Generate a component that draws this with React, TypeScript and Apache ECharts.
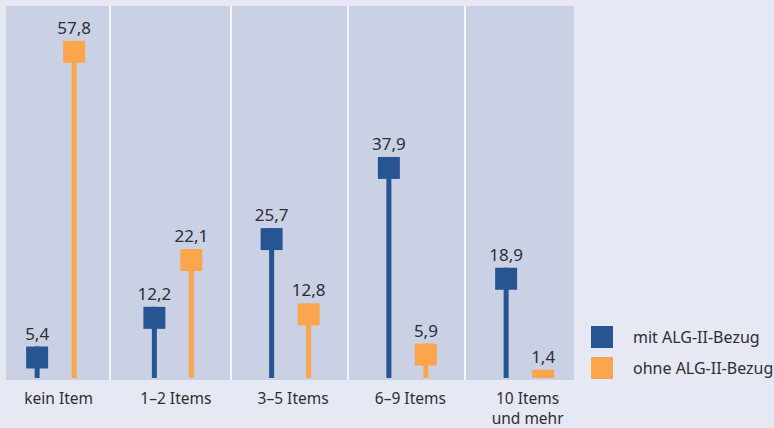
import React, { useEffect, useRef } from "react";
import * as echarts from "echarts";

const categories = ["kein Item", "1–2 Items", "3–5 Items", "6–9 Items", "10 Items\nund mehr"];
const seriesNames = ["mit ALG-II-Bezug", "ohne ALG-II-Bezug"];
const withAlg = [5.4, 12.2, 25.7, 37.9, 18.9];
const withoutAlg = [57.8, 22.1, 12.8, 5.9, 1.4];

const BLUE = "#265591";
const ORANGE = "#fba64c";
const PLOT_BG = "#cbd1e4";
const PAGE_BG = "#e6e8f3";
const FONT = "'Noto Sans', sans-serif";

function makeRender(offset: number, color: string) {
  return (params: any, api: any) => {
    const idx = api.value(0);
    const val = api.value(1);
    const top = api.coord([idx, val]);
    const base = api.coord([idx, 0]);
    const cx = top[0] + offset;
    const sq = 22;
    const stemW = 5;
    const h = base[1] - top[1];
    const sqH = Math.min(sq, h);
    return {
      type: "group",
      children: [
        {
          type: "rect",
          shape: { x: cx - stemW / 2, y: top[1], width: stemW, height: h },
          style: { fill: color },
        },
        {
          type: "rect",
          shape: { x: cx - sq / 2, y: top[1], width: sq, height: sqH },
          style: { fill: color },
        },
        {
          type: "text",
          x: cx,
          y: top[1] - 5,
          style: {
            text: String(val).replace(".", ","),
            fill: "#2e2e33",
            font: `17px ${FONT}`,
            align: "center",
            verticalAlign: "bottom",
          },
        },
      ],
    };
  };
}

export default function App() {
  const ref = useRef<HTMLDivElement>(null);
  useEffect(() => {
    if (!ref.current) return;
    const chart = echarts.init(ref.current, undefined, { renderer: "svg" });
    const sepXs = [110, 231, 348, 465];
    chart.setOption({
      animation: false,
      backgroundColor: PAGE_BG,
      textStyle: { fontFamily: FONT },
      graphic: [
        {
          type: "rect",
          z: -10,
          silent: true,
          shape: { x: 6, y: 6, width: 568, height: 374 },
          style: { fill: PLOT_BG },
        },
        ...sepXs.map((x) => ({
          type: "line",
          z: -9,
          silent: true,
          shape: { x1: x, y1: 6, x2: x, y2: 380 },
          style: { stroke: "#ffffff", lineWidth: 1.6 },
        })),
      ],
      grid: { left: 0, top: 28, width: 586.25, bottom: 48 },
      legend: {
        orient: "vertical",
        left: 591,
        top: 326,
        padding: 0,
        itemWidth: 22,
        itemHeight: 22,
        itemGap: 9,
        icon: "rect",
        textStyle: { fontSize: 16, color: "#2e2e33", fontFamily: FONT, padding: [0, 0, 0, 15] },
        data: seriesNames,
      },
      xAxis: {
        type: "category",
        data: categories,
        axisLine: { show: false },
        axisTick: { show: false },
        axisLabel: {
          color: "#2e2e33",
          fontSize: 15.5,
          fontFamily: FONT,
          margin: 10,
          lineHeight: 20,
          interval: 0,
        },
      },
      yAxis: {
        type: "value",
        min: 0,
        max: 60,
        show: false,
        splitLine: { show: false },
      },
      series: [
        {
          name: seriesNames[0],
          type: "custom",
          itemStyle: { color: BLUE },
          renderItem: makeRender(-21.5, BLUE),
          data: withAlg.map((v, i) => [i, v]),
          clip: false,
        },
        {
          name: seriesNames[1],
          type: "custom",
          itemStyle: { color: ORANGE },
          renderItem: makeRender(15.5, ORANGE),
          data: withoutAlg.map((v, i) => [i, v]),
          clip: false,
        },
      ],
    });
    return () => chart.dispose();
  }, []);
  return <div ref={ref} style={{ width: 774, height: 428, position: "absolute", left: 0, top: 0 }} />;
}
